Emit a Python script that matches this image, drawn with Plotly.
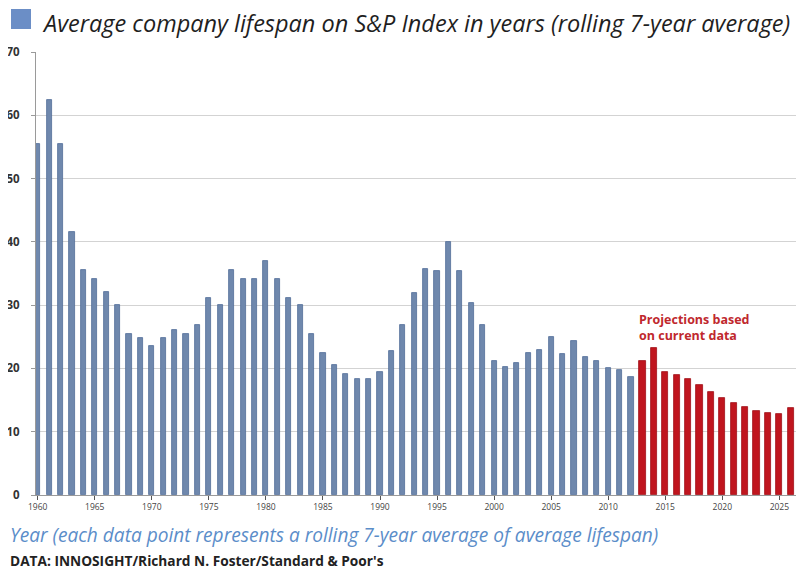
import plotly.graph_objects as go

hist_years = list(range(1960, 2013))
hist_values = [55.4, 62.4, 55.4, 41.5, 35.5, 34.2, 32.0, 30.1, 25.4, 24.8,
               23.5, 24.8, 26.1, 25.4, 26.8, 31.1, 30.1, 35.5, 34.2, 34.2,
               36.9, 34.2, 31.1, 30.1, 25.4, 22.5, 20.6, 19.1, 18.3, 18.3,
               19.5, 22.8, 26.8, 31.9, 35.7, 35.4, 39.9, 35.4, 30.3, 26.8,
               21.2, 20.2, 20.9, 22.4, 22.9, 25.0, 22.3, 24.3, 21.8, 21.2,
               20.1, 19.8, 18.6]
proj_years = list(range(2013, 2028))
proj_values = [21.1, 23.2, 19.4, 19.0, 18.3, 17.4, 16.3, 15.3, 14.6, 13.9,
               13.3, 13.0, 12.8, 13.7, 13.7]

title_text = "Average company lifespan on S&P Index in years (rolling 7-year average)"
xaxis_text = "Year (each data point represents a rolling 7-year average of average lifespan)"
source_text = "DATA: INNOSIGHT/Richard N. Foster/Standard & Poor's"
proj_text = "Projections based<br>on current data"

OFF = 8  # page body margin
W, H = 804 - OFF, 569 - OFF
L, R, T = 36 - OFF, 0, 52 - OFF
B = H - (495 - OFF)
pw, ph = W - L - R, H - T - B

def px(x):
    return (x - OFF - L) / pw

def py(y):
    return (H - B - (y - OFF)) / ph

fig = go.Figure()
fig.add_trace(go.Bar(x=hist_years, y=hist_values, width=0.45,
                     marker=dict(color="#6f88ad", line=dict(color="#526d98", width=0.8)),
                     showlegend=False))
fig.add_trace(go.Bar(x=proj_years, y=proj_values, width=0.55,
                     marker=dict(color="#c0151e", line=dict(color="#a01018", width=0.8)),
                     showlegend=False))

fig.update_layout(
    width=W, height=H,
    margin=dict(l=L, r=R, t=T, b=B, pad=0),
    paper_bgcolor="white", plot_bgcolor="white",
    font=dict(family="Open Sans, sans-serif", color="#333333"),
    bargap=0,
    xaxis=dict(range=[1959.85, 2027.16], tickmode="linear", tick0=1960, dtick=5,
               ticks="outside", ticklen=4, tickcolor="#555555",
               showline=True, linecolor="#9a9a9a", linewidth=1,
               showgrid=False, zeroline=False,
               tickfont=dict(size=8.5, color="#444444", family="Open Sans")),
    yaxis=dict(range=[0, 70], tickmode="linear", dtick=10,
               ticks="outside", ticklen=4, tickcolor="#9a9a9a",
               ticklabelstandoff=9,
               showline=True, linecolor="#9a9a9a", linewidth=1,
               showgrid=True, gridcolor="#d3d3d3", gridwidth=1,
               zeroline=False,
               tickfont=dict(size=11.5, color="#333333", family="Open Sans", weight="bold")),
)

fig.add_shape(type="rect", xref="paper", yref="paper",
              x0=px(11), x1=px(31), y0=py(29), y1=py(9),
              fillcolor="#6b8ec6", line=dict(width=0))

fig.add_annotation(text="<i>" + title_text + "</i>", xref="paper", yref="paper",
                   x=px(40), y=py(23), xanchor="left", yanchor="middle", showarrow=False,
                   font=dict(size=23.5, color="#1f1f1f", family="Open Sans"))
fig.add_annotation(text="<i>" + xaxis_text + "</i>", xref="paper", yref="paper",
                   x=px(8), y=py(535), xanchor="left", yanchor="middle", showarrow=False,
                   font=dict(size=19.1, color="#5b8dc9", family="Open Sans"))
fig.add_annotation(text="<b>" + source_text + "</b>", xref="paper", yref="paper",
                   x=px(8), y=py(560), xanchor="left", yanchor="middle", showarrow=False,
                   font=dict(size=13.7, color="#222222", family="Open Sans"))
fig.add_annotation(text="<b>" + proj_text + "</b>", xref="x", yref="y",
                   x=2012.5, y=26.4, xanchor="left", yanchor="middle", showarrow=False,
                   align="left",
                   font=dict(size=12.5, color="#c0282d", family="Open Sans"))

fig.write_html("out.html")
